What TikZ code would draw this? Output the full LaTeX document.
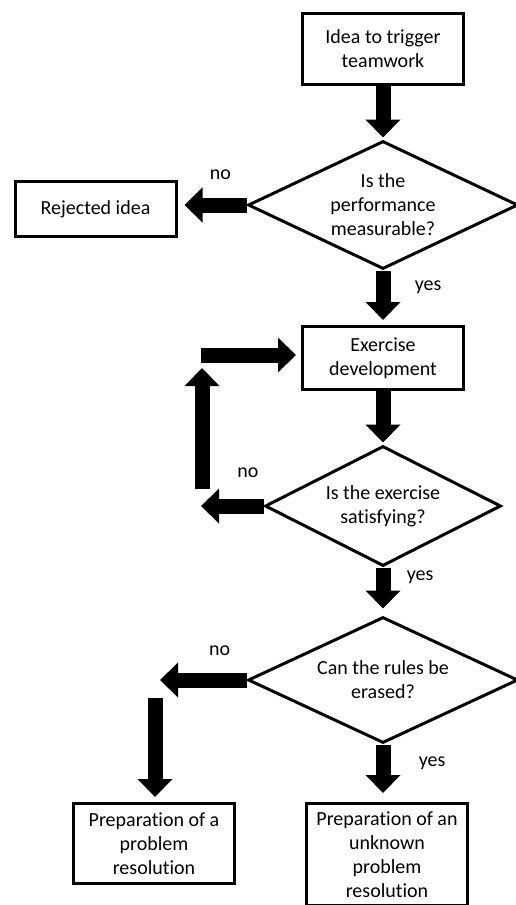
\documentclass[tikz,border=0pt]{standalone}
\usepackage{fontspec}
\setmainfont{Carlito}[Ligatures=NoCommon]
\usepackage{tikz}
\usetikzlibrary{arrows.meta,shapes.geometric}

\begin{document}
\begin{tikzpicture}[x=1pt, y=-1pt, font=\fontsize{20pt}{24pt}\selectfont,
		box/.style={draw, line width=3pt, minimum width=161pt, align=center},
		decision/.style={draw, diamond, line width=3pt, aspect=2.1, inner sep=0pt, align=center},
		blockarrow/.style={line width=15pt, -{Triangle[width=34pt,length=18pt]}}]
		%\draw [help lines, step=20] (0,0) grid (515,905);
		\useasboundingbox (0,0) rectangle (515,905);
		\node (idea) [box, minimum height=71pt] at (383,49) {Idea to trigger\\teamwork};
		\node (measure) [decision, minimum width=270pt, minimum height=128pt] at (383,205) {Is the\\performance\\measurable?};
		\node (reject) [box, minimum height=55pt] at (95.5,209) {Rejected idea};
		\node (develop) [box, minimum height=63pt] at (383,358) {Exercise\\development};
		\node (satisfy) [decision, minimum width=236pt, minimum height=120pt] at (383,506) {Is the exercise\\satisfying?};
		\node (erase) [decision, minimum width=270pt, minimum height=126pt] at (383,680) {Can the rules be\\erased?};
		\node (known) [box, minimum height=80pt] at (154,843.5) {Preparation of a\\problem\\resolution};
		\node (unknown) [box, minimum height=102pt] at (387,854.5) {Preparation of an\\unknown\\problem\\resolution};
		\coordinate (loopSW) at (201,506);
		\coordinate (loopS) at (202,489);
		\coordinate (loopN) at (202,368);
		\coordinate (loopNW) at (201,355);
		\coordinate (ruleNo) at (160,680);
		\coordinate (ruleDown) at (155,698);
		\draw [blockarrow, shorten >=2pt] (idea.south) -- (measure.north);
		\draw [blockarrow, shorten >=7pt] (measure.west) -- (measure.west -| reject.east) node (no1) [pos=0.38, above=15pt] {no};
		\draw [blockarrow, shorten >=5pt] (measure.south) -- (develop.north) node (yes1) [pos=0.3, right=21pt] {yes};
		\draw [blockarrow, shorten >=2pt] (develop.south) -- (satisfy.north);
		\draw [blockarrow] (satisfy.west) -- (loopSW) node (no2) [pos=0.25, above=18pt] {no};
		\draw [blockarrow] (loopS) -- (loopN);
		\draw [blockarrow, shorten >=5pt] (loopNW) -- (loopNW -| develop.west);
		\draw [blockarrow, shorten >=7pt] (satisfy.south) -- (erase.north) node (yes2) [pos=0.2, right=13pt] {yes};
		\draw [blockarrow] (erase.west) -- (ruleNo) node (no3) [pos=0.31, above=14pt] {no};
		\draw [blockarrow, shorten >=5pt] (ruleDown) -- (ruleDown |- known.north);
		\draw [blockarrow, shorten >=9pt] (erase.south) -- (erase.south |- unknown.north) node (yes3) [pos=0.32, right=25pt] {yes};
	\end{tikzpicture}
\end{document}
